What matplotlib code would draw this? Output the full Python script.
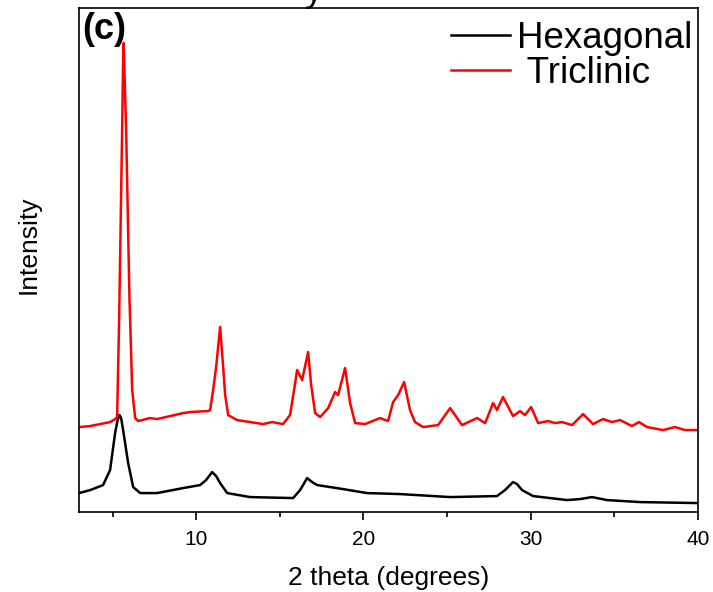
import numpy as np
import matplotlib.pyplot as plt

plt.rcParams['font.family'] = ['Liberation Sans', 'DejaVu Sans']

# XRD patterns (2 theta in degrees, intensity in arb. units)
tri_x = [3.00, 3.66, 4.85, 5.15, 5.27, 5.39, 5.57, 5.62, 5.66, 5.71, 5.81, 6.01, 6.05,
         6.17, 6.35, 6.53, 7.24, 7.66, 8.44, 9.22, 9.63, 10.71, 10.83, 11.01, 11.19,
         11.43, 11.61, 11.73, 11.91, 12.44, 13.22, 14.00, 14.54, 15.19, 15.61, 15.85,
         16.03, 16.33, 16.69, 16.87, 17.11, 17.41, 17.89, 18.30, 18.48, 18.90, 19.20,
         19.50, 20.10, 20.99, 21.47, 21.77, 22.07, 22.43, 22.78, 23.08, 23.56, 24.46,
         25.18, 25.89, 26.79, 27.27, 27.75, 27.98, 28.34, 28.94, 29.36, 29.66, 30.02,
         30.44, 31.03, 31.45, 31.87, 32.47, 33.13, 33.72, 34.32, 34.86, 35.34, 36.05,
         36.47, 36.95, 37.91, 38.62, 39.22, 40.00]
tri_y = [85, 86, 90, 93, 95, 192, 382, 440, 469, 440, 382, 212, 192,
         122, 94, 91, 94, 93, 96, 99, 100, 101, 102, 122, 145,
         185, 145, 117, 97, 92, 90, 88, 90, 88, 97, 122,
         142, 132, 160, 127, 99, 95, 104, 120, 117, 144, 109,
         89, 88, 94, 91, 110, 117, 130, 102, 90, 85, 87,
         104, 87, 94, 89, 109, 102, 115, 96, 101, 97, 105,
         89, 91, 89, 90, 87, 98, 88, 93, 90, 92, 86,
         90, 85, 82, 85, 82, 82]

hex_x = [3.00, 3.66, 4.43, 4.85, 5.15, 5.30, 5.41, 5.51, 5.63, 5.93, 6.23, 6.65, 7.66,
         9.22, 10.23, 10.59, 10.95, 11.19, 11.43, 11.85, 13.22, 15.79, 16.21, 16.63,
         16.93, 17.23, 18.78, 20.21, 22.19, 25.18, 27.98, 28.46, 28.94, 29.18, 29.48,
         30.14, 32.17, 32.95, 33.66, 34.56, 36.53, 40.00]
hex_y = [19, 22, 27, 42, 79, 92, 97, 94, 82, 49, 25, 19, 19,
         24, 27, 32, 40, 36, 29, 19, 15, 14, 22, 34,
         30, 27, 23, 19, 18, 15, 16, 22, 30, 28, 22,
         16, 12, 13, 15, 12, 10, 9]

fig = plt.figure(figsize=(7.13, 5.92), dpi=100)
ax = fig.add_axes([0.111, 0.135, 0.868, 0.8515])

ax.plot(hex_x, hex_y, color='black', lw=1.8, label='Hexagonal',
        solid_joinstyle='round')
ax.plot(tri_x, tri_y, color='red', lw=1.8, label=' Triclinic',
        solid_joinstyle='round')

ax.set_xlim(3, 40)
ax.set_ylim(0, 504)
ax.set_xticks([10, 20, 30, 40])
ax.set_xticks([5, 15, 25, 35], minor=True)
ax.set_yticks([])
ax.tick_params(axis='x', which='major', length=6, width=1.2, labelsize=15, pad=7)
ax.tick_params(axis='x', which='minor', length=3.5, width=1.2)
for sp in ax.spines.values():
    sp.set_linewidth(1.2)

ax.set_xlabel('2 theta (degrees)', fontsize=19, labelpad=12)
ax.set_ylabel('Intensity', fontsize=19)
ax.yaxis.set_label_coords(-0.062, 0.53)

ax.text(0.005, 0.992, '(c)', transform=ax.transAxes, fontsize=26,
        fontweight='bold', va='top', ha='left')

# leftover descender of a title cut off at the top edge
fig.text(0.428, 0.998, 'y', fontsize=26, va='baseline', ha='left')

ax.legend(loc='upper right', bbox_to_anchor=(1.021, 1.01), frameon=False,
          fontsize=26.5, handlelength=1.6, handletextpad=0.2,
          labelspacing=0.0, borderaxespad=0.1)

fig.savefig('out.png', dpi=100)
